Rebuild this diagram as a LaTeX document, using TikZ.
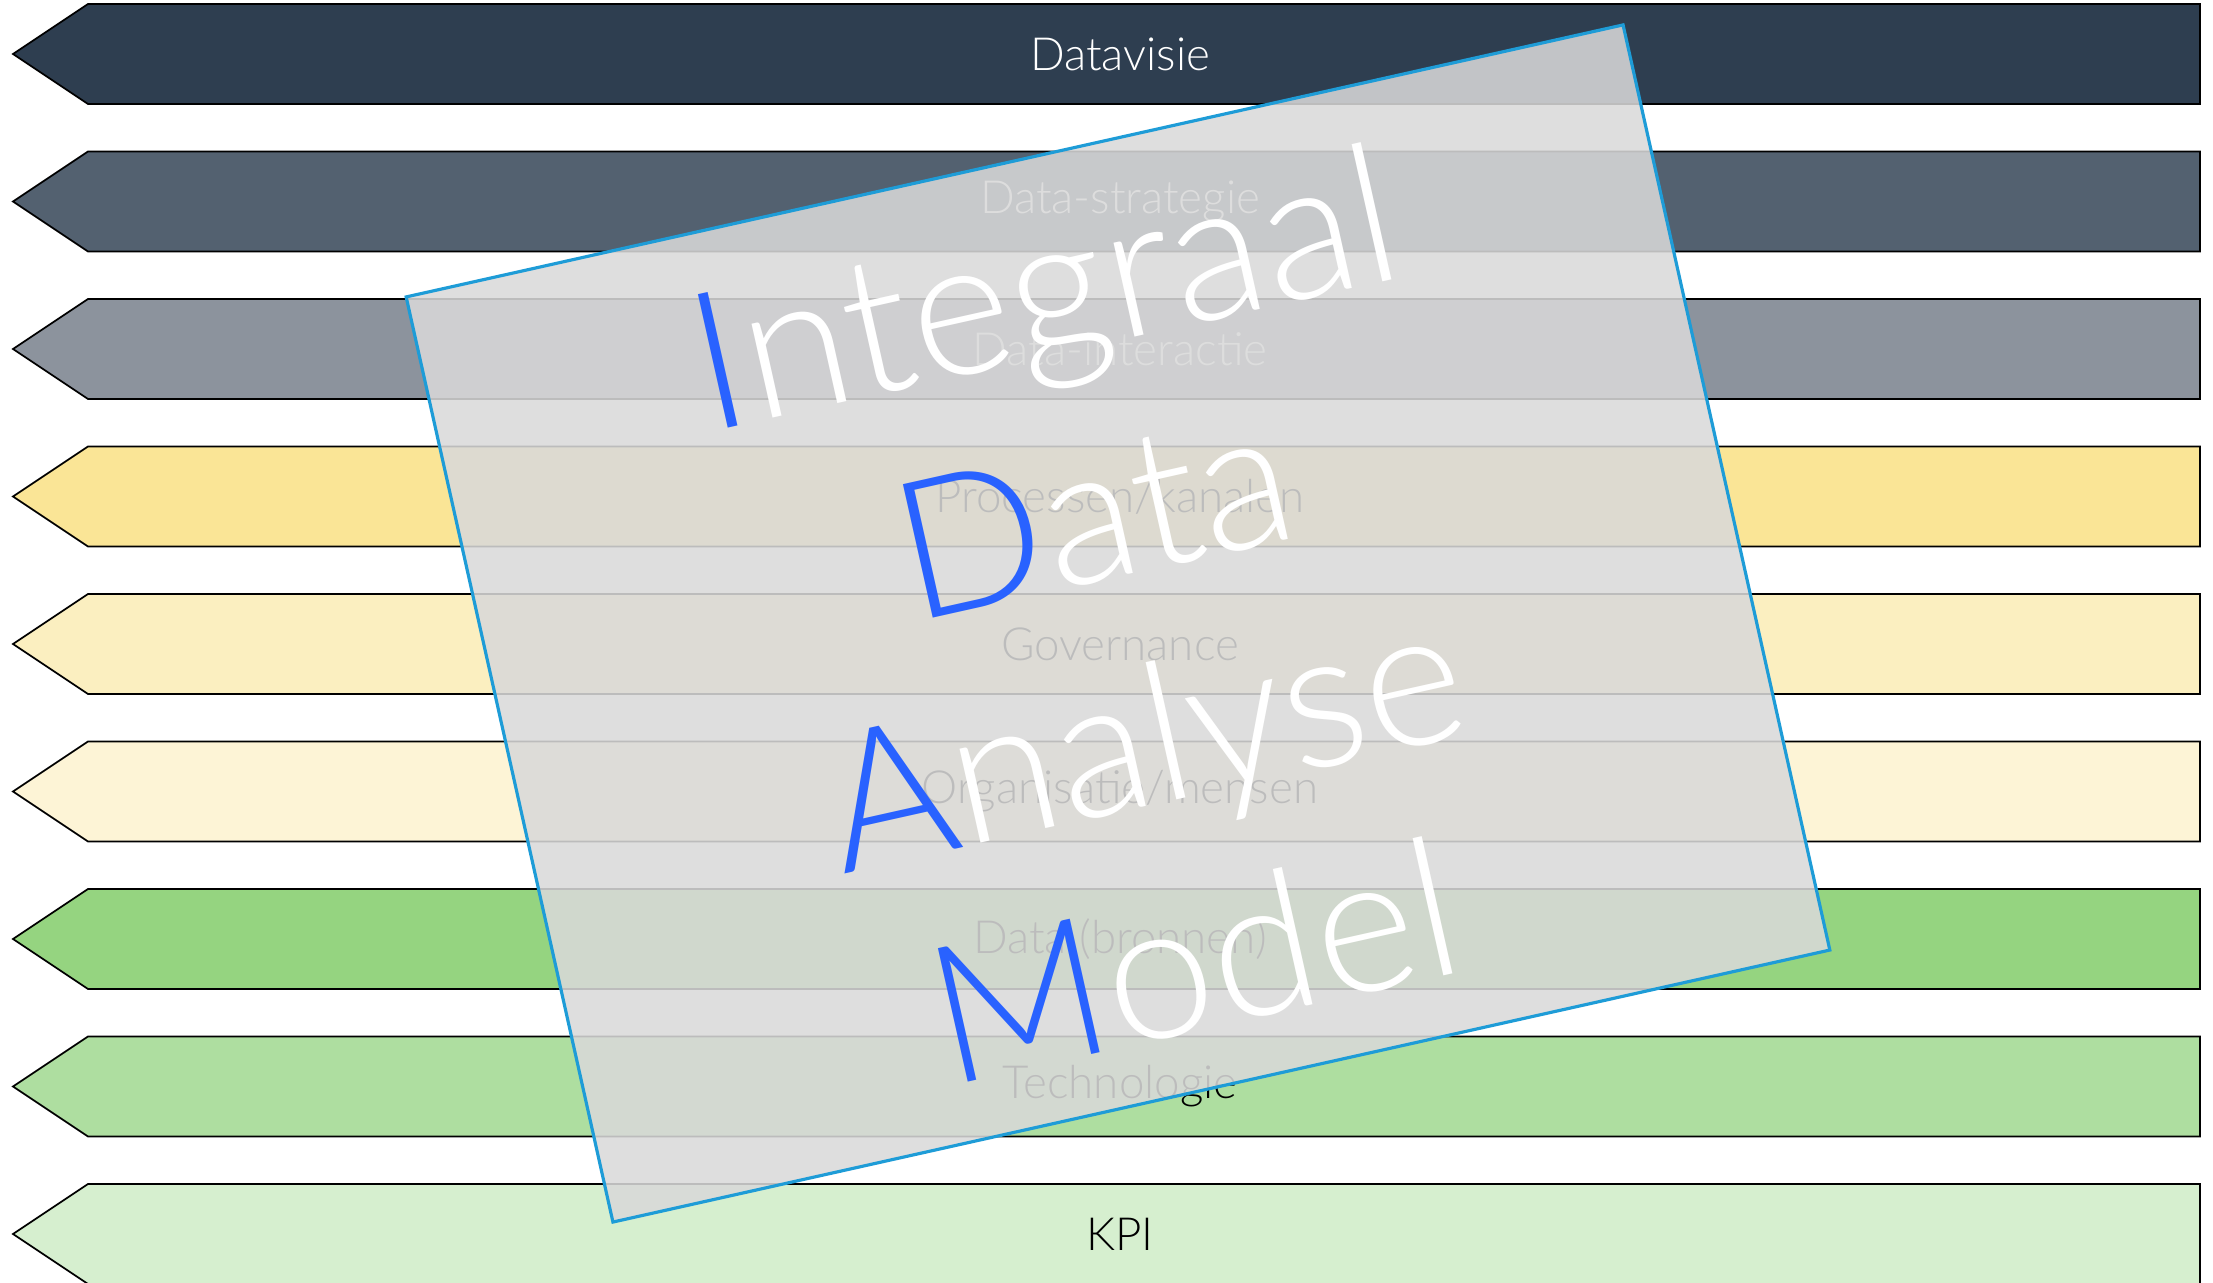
\documentclass[tikz,border=0pt]{standalone}
\usepackage{fontspec}
\setmainfont{Lato}[UprightFont=* Light]
\usetikzlibrary{positioning}

\definecolor{cVisie}{HTML}{2E3E50}
\definecolor{cStrategie}{HTML}{536170}
\definecolor{cInteractie}{HTML}{8C939D}
\definecolor{cProcessen}{HTML}{FAE596}
\definecolor{cGovernance}{HTML}{FBEFC0}
\definecolor{cOrganisatie}{HTML}{FDF4D6}
\definecolor{cBronnen}{HTML}{95D480}
\definecolor{cTechnologie}{HTML}{AEDEA0}
\definecolor{cKPI}{HTML}{D6EFCF}
\definecolor{sheetblue}{HTML}{1E9CD7}
\definecolor{titleblue}{HTML}{2962FF}

\tikzset{
    band/.style = {
        draw=black,
        line width=0.5pt,
        line join=miter
    },
    bandtext/.style = {
        font=\fontsize{13}{15}\selectfont,
        inner sep=0pt
    },
    sheet/.style = {
        draw=sheetblue,
        line width=0.9pt,
        fill=black!15,
        fill opacity=0.87,
        rotate=12.6,
        minimum width=12.47cm,
        minimum height=9.48cm,
        inner sep=0pt
    },
    title/.style = {
        text=white,
        rotate=12.6,
        align=center,
        inner sep=0pt,
        font=\fontsize{55}{65.5}\selectfont
    }
}

\begin{document}
\begin{tikzpicture}
    \useasboundingbox (0,0) rectangle (22.13,-12.83);
    % tip, shoulder and right end of every band
    \newcommand\XL{0.13}
    \newcommand\XS{0.88}
    \newcommand\XR{22.00}
    \newcommand\XM{11.20}

    %Datavisie
    \draw[band, fill=cVisie] (\XL,-0.54) -- (\XS,-0.04) -- (\XR,-0.04) -- (\XR,-1.04) -- (\XS,-1.04) -- cycle;
    \node[bandtext, white] (visie) at (\XM,-0.54) {Datavisie};

    %Data-strategie
    \draw[band, fill=cStrategie] (\XL,-2.015) -- (\XS,-1.515) -- (\XR,-1.515) -- (\XR,-2.515) -- (\XS,-2.515) -- cycle;
    \node[bandtext, white] (strategie) at (\XM,-2.015) {Data-strategie};

    %Data-interactie
    \draw[band, fill=cInteractie] (\XL,-3.49) -- (\XS,-2.99) -- (\XR,-2.99) -- (\XR,-3.99) -- (\XS,-3.99) -- cycle;
    \node[bandtext, white] (interactie) at (\XM,-3.49) {Data-interactie};

    %Processen/kanalen
    \draw[band, fill=cProcessen] (\XL,-4.965) -- (\XS,-4.465) -- (\XR,-4.465) -- (\XR,-5.465) -- (\XS,-5.465) -- cycle;
    \node[bandtext, black] (processen) at (\XM,-4.965) {Processen/kanalen};

    %Governance
    \draw[band, fill=cGovernance] (\XL,-6.44) -- (\XS,-5.94) -- (\XR,-5.94) -- (\XR,-6.94) -- (\XS,-6.94) -- cycle;
    \node[bandtext, black] (governance) at (\XM,-6.44) {Governance};

    %Organisatie/mensen
    \draw[band, fill=cOrganisatie] (\XL,-7.915) -- (\XS,-7.415) -- (\XR,-7.415) -- (\XR,-8.415) -- (\XS,-8.415) -- cycle;
    \node[bandtext, black] (organisatie) at (\XM,-7.915) {Organisatie/mensen};

    %Data (bronnen)
    \draw[band, fill=cBronnen] (\XL,-9.39) -- (\XS,-8.89) -- (\XR,-8.89) -- (\XR,-9.89) -- (\XS,-9.89) -- cycle;
    \node[bandtext, black] (bronnen) at (\XM,-9.39) {Data (bronnen)};

    %Technologie
    \draw[band, fill=cTechnologie] (\XL,-10.865) -- (\XS,-10.365) -- (\XR,-10.365) -- (\XR,-11.365) -- (\XS,-11.365) -- cycle;
    \node[bandtext, black] (technologie) at (\XM,-10.865) {Technologie};

    %KPI
    \draw[band, fill=cKPI] (\XL,-12.34) -- (\XS,-11.84) -- (\XR,-11.84) -- (\XR,-12.84) -- (\XS,-12.84) -- cycle;
    \node[bandtext, black] (kpi) at (\XM,-12.34) {KPI};

    %Sheet on top
    \node[sheet] (sheet) at (11.18,-6.235) {};
    \node[title] (model) at (sheet.center) {{\color{titleblue}I}ntegraal\\{\color{titleblue}D}ata\\{\color{titleblue}A}nalyse\\{\color{titleblue}M}odel};

\end{tikzpicture}
\end{document}
